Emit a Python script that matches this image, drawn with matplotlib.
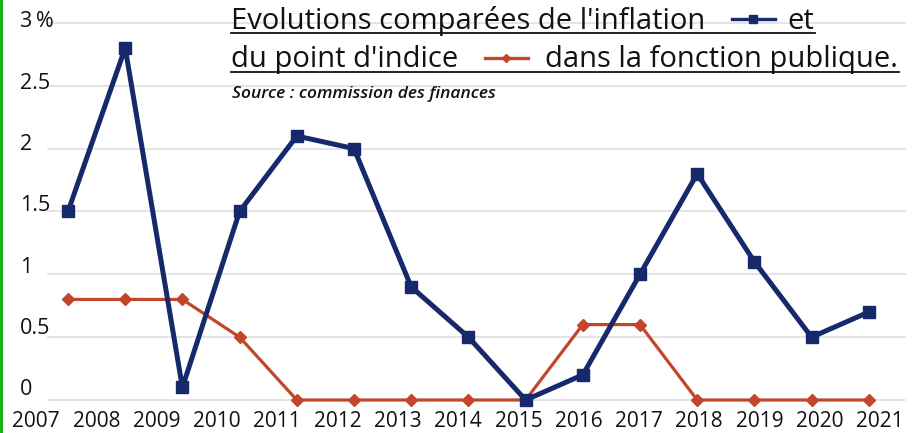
import numpy as np
import matplotlib
matplotlib.use("Agg")
import matplotlib.pyplot as plt
from matplotlib.lines import Line2D
from matplotlib.transforms import blended_transform_factory

years = ["2007", "2008", "2009", "2010", "2011", "2012", "2013", "2014",
         "2015", "2016", "2017", "2018", "2019", "2020", "2021"]
inflation = [1.5, 2.8, 0.1, 1.5, 2.1, 2.0, 0.9, 0.5, 0.0, 0.2, 1.0, 1.8, 1.1, 0.5, 0.7]
point_indice = [0.8, 0.8, 0.8, 0.5, 0.0, 0.0, 0.0, 0.0, 0.0, 0.6, 0.6, 0.0, 0.0, 0.0, 0.0]
y_ticks = [0, 0.5, 1, 1.5, 2, 2.5, 3]
y_tick_labels = ["0", "0.5", "1", "1.5", "2", "2.5", "3\u2009%"]

title_1 = "Evolutions comparées de l'inflation"
title_1b = "et"
title_2 = "du point d'indice"
title_2b = "dans la fonction publique."
source = "Source : commission des finances"

BLUE = "#16296b"
RED = "#c2472a"
INK = "#121212"
GRID = "#e2e2e2"
W, H = 916, 433

plt.rcParams["font.family"] = ["Open Sans", "DejaVu Sans"]

fig = plt.figure(figsize=(W / 100, H / 100), dpi=100)
fig.patch.set_facecolor("white")


def fx(px):
    return px / W


def fy(py):
    return 1 - py / H


# axes box in pixels (left, top, right, bottom)
L, T, R, B = 10, 5, 910, 408
ax = fig.add_axes([fx(L), fy(B), fx(R - L), (B - T) / H])
x = np.arange(len(years))
# scale: point i at 68 + 57.2*i px ; value v at 400 - 125.7*v px
ax.set_xlim((L - 68) / 57.2, (R - 68) / 57.2)
ax.set_ylim((400 - B) / 125.7, (400 - T) / 125.7)
for s in ax.spines.values():
    s.set_visible(False)

for v in y_ticks:
    ax.axhline(v, xmin=(48 - L) / (R - L), xmax=(905 - L) / (R - L),
               color=GRID, lw=1.3, zorder=0)

ax.plot(x, point_indice, color=RED, lw=2.3, marker="D", ms=6,
        mec=RED, mfc=RED, zorder=3)
ax.plot(x, inflation, color=BLUE, lw=3.6, marker="s", ms=8.5,
        mec=BLUE, mfc=BLUE, zorder=4)

# y labels sit slightly above their grid lines
trans = blended_transform_factory(ax.transAxes, ax.transData)
for v, lab in zip(y_ticks, y_tick_labels):
    ax.text((20 - L) / (R - L), 0.08 + 0.976 * v, lab, transform=trans,
            ha="left", va="center", fontsize=15.5, color=INK)
ax.set_yticks([])

# year labels drift a little from the points
tick_pos = [(36 + 60.3 * j - 68) / 57.2 for j in range(len(years))]
ax.set_xticks(tick_pos)
ax.set_xticklabels(years, fontsize=15, color=INK)
ax.tick_params(axis="x", length=0, pad=2)

# title block
TS = 21
t1 = fig.text(fx(231), fy(29), title_1, fontsize=TS, color=INK, va="baseline")
t1b = fig.text(fx(787), fy(29), title_1b, fontsize=TS, color=INK, va="baseline")
t2 = fig.text(fx(231), fy(67), title_2, fontsize=TS, color=INK, va="baseline")
t2b = fig.text(fx(545), fy(67), title_2b, fontsize=TS, color=INK, va="baseline")
fig.text(fx(232), fy(98), source, fontsize=12.5, style="italic",
         fontweight="semibold", color=INK, va="baseline")

# legend keys inside the title
fig.add_artist(Line2D([fx(732), fx(775)], [fy(19), fy(19)], color=BLUE, lw=2.4))
fig.add_artist(Line2D([fx(753)], [fy(19)], color=BLUE, marker="s", ms=6, lw=0))
fig.add_artist(Line2D([fx(485), fx(528)], [fy(58), fy(58)], color=RED, lw=2.4))
fig.add_artist(Line2D([fx(506)], [fy(58)], color=RED, marker="D", ms=4.5, lw=0))

fig.canvas.draw()
r = fig.canvas.get_renderer()
e1 = t1.get_window_extent(r)
e1b = t1b.get_window_extent(r)
e2 = t2.get_window_extent(r)
e2b = t2b.get_window_extent(r)
fig.add_artist(Line2D([fx(e1.x0), fx(e1b.x1 + 1)], [fy(33), fy(33)],
                      color=INK, lw=1.3))
fig.add_artist(Line2D([fx(e2.x0), fx(e2b.x1 + 1)], [fy(72), fy(72)],
                      color=INK, lw=1.3))

# green frame edge on the left
fig.add_artist(Line2D([0.0015, 0.0015], [0, 1], color="#19b219", lw=2.2))

fig.savefig("out.png", dpi=100, facecolor="white")
